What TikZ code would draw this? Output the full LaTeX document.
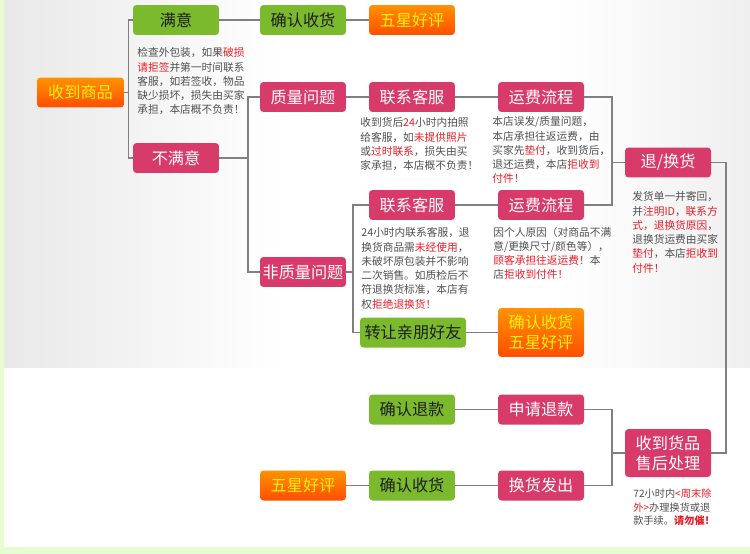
\documentclass[tikz,border=0pt]{standalone}
\usepackage{fontspec}
\setmainfont{Noto Sans CJK SC}
\usepackage{xcolor}
\usepackage{tikz}
\usetikzlibrary{positioning}
\definecolor{gGreen}{HTML}{7BB92D}
\definecolor{gInk}{HTML}{1E1E1E}
\definecolor{pPink}{HTML}{D83B6A}
\definecolor{oTop}{HTML}{FF9200}
\definecolor{oBot}{HTML}{FF4E00}
\definecolor{oText}{HTML}{FFF200}
\definecolor{nGray}{HTML}{505050}
\definecolor{hRed}{HTML}{EE1C25}
\definecolor{wGray}{HTML}{808080}
\definecolor{bgGray}{HTML}{E8E8E8}
\definecolor{bgGreen}{HTML}{E8FCD2}
\newcommand{\redtxt}[1]{\textcolor{hRed}{#1}}

\begin{document}
\begin{tikzpicture}[x=0.02cm, y=-0.02cm,
          box/.style={rounded corners=2pt, minimum width=1.72cm, minimum height=0.6cm,
            inner sep=0pt, align=center, font=\fontsize{9.2}{11.5}\selectfont},
          gbox/.style={box, fill=gGreen, text=gInk},
          pbox/.style={box, fill=pPink, text=white},
          obox/.style={box, top color=oTop, bottom color=oBot, text=oText},
          note/.style={anchor=north west, inner sep=0pt, align=left, text=nGray,
            font=\fontsize{6.1}{8.1}\selectfont},
          wire/.style={draw=wGray, line width=0.9pt}]
        \useasboundingbox (0,0) rectangle (750,554);
        \fill[white] (0,0) rectangle (750,554);
        \shade[left color=bgGray, right color=white] (0,0) rectangle (280,367);
        \shade[left color=white, right color=bgGray!70] (560,0) rectangle (750,367);
        \fill[bgGreen] (0,0) rectangle (4,554);
        \fill[bgGreen] (0,547) rectangle (750,554);
        \node[obox, minimum width=1.74cm] (shou) at (80.5,92.5) {收到商品};
        \node[gbox] (manyi) at (176,20) {满意};
        \node[gbox] (queren1) at (303,20) {确认收货};
        \node[obox] (wuxing1) at (412,20) {五星好评};
        \node[note] (n1) at (137,47.5) {检查外包装，如果\redtxt{破损}\\\redtxt{请拒签}并第一时间联系\\客服，如若签收，物品\\缺少损坏，损失由买家\\承担，本店概不负责！};
        \node[pbox] (bumanyi) at (176,158) {不满意};
        \node[pbox] (zhiliang) at (303,97) {质量问题};
        \node[pbox] (kefu1) at (412,97) {联系客服};
        \node[pbox] (yunfei1) at (541,97) {运费流程};
        \node[note] (n2) at (360,117.5) {收到货后\redtxt{24}小时内拍照\\给客服，如\redtxt{未提供照片}\\或\redtxt{过时联系}，损失由买\\家承担，本店概不负责！};
        \node[note] (n3) at (492,116.5) {本店误发/质量问题，\\本店承担往返运费，由\\买家先\redtxt{垫付}，收到货后，\\退还运费，本店\redtxt{拒收到}\\\redtxt{付件！}};
        \node[pbox] (tuihuan) at (668,162.5) {退/换货};
        \node[note] (n4) at (632,191.5) {发货单一并寄回，\\并\redtxt{注明ID，联系方}\\\redtxt{式，退换货原因}，\\退换货运费由买家\\\redtxt{垫付}，本店\redtxt{拒收到}\\\redtxt{付件！}};
        \node[pbox] (kefu2) at (412,205) {联系客服};
        \node[pbox] (yunfei2) at (541,205) {运费流程};
        \node[pbox] (feizhiliang) at (303,272) {非质量问题};
        \node[note] (n5) at (361,227.5) {24小时内联系客服，退\\换货商品需\redtxt{未经使用}，\\未破坏原包装并不影响\\二次销售。如质检后不\\符退换货标准，本店有\\权\redtxt{拒绝退换货！}};
        \node[note] (n6) at (493,226.5) {因个人原因（对商品不满\\意/更换尺寸/颜色等），\\\redtxt{顾客承担往返运费！}本\\店\redtxt{拒收到付件！}};
        \node[gbox, minimum width=2.12cm] (zhuanrang) at (413,332.5) {转让亲朋好友};
        \node[obox, minimum height=0.98cm] (queren2) at (541,332.5) {确认收货\\五星好评};
        \node[gbox] (tuikuan) at (412,409.5) {确认退款};
        \node[pbox] (shenqing) at (541,409.5) {申请退款};
        \node[pbox, minimum height=0.96cm] (shouhuo) at (668,453) {收到货品\\售后处理};
        \node[note, font=\fontsize{5.8}{7.7}\selectfont] (n7) at (633,488.5) {72小时内\redtxt{<周末除}\\\redtxt{外>}办理换货或退\\款手续。\textbf{\redtxt{请勿催！}}};
        \node[obox] (wuxing3) at (303,485.5) {五星好评};
        \node[gbox] (queren3) at (412,485.5) {确认收货};
        \node[pbox] (huanhuo) at (541,485.5) {换货发出};
        \coordinate (jA) at (128.5,92.5);
        \coordinate (jB) at (248,158);
        \coordinate (jC) at (612,162.5);
        \coordinate (jD) at (353,272);
        \coordinate (jE) at (726,453);
        \coordinate (jF) at (612,453);
        \draw[wire] (shou.east) -- (jA);
        \draw[wire] (manyi.west) -| (jA) |- (bumanyi.west);
        \draw[wire] (manyi) -- (queren1);
        \draw[wire] (queren1) -- (wuxing1);
        \draw[wire] (bumanyi.east) -- (jB);
        \draw[wire] (zhiliang.west) -| (jB) |- (feizhiliang.west);
        \draw[wire] (zhiliang) -- (kefu1);
        \draw[wire] (kefu1) -- (yunfei1);
        \draw[wire] (yunfei1.east) -| (jC) |- (yunfei2.east);
        \draw[wire] (jC) -- (tuihuan.west);
        \draw[wire] (feizhiliang.east) -- (jD);
        \draw[wire] (kefu2.west) -| (jD) |- (zhuanrang.west);
        \draw[wire] (kefu2) -- (yunfei2);
        \draw[wire] (zhuanrang) -- (queren2);
        \draw[wire] (tuihuan.east) -| (jE) -- (shouhuo.east);
        \draw[wire] (shouhuo.west) -- (jF);
        \draw[wire] (shenqing.east) -| (jF) |- (huanhuo.east);
        \draw[wire] (shenqing) -- (tuikuan);
        \draw[wire] (huanhuo) -- (queren3);
        \draw[wire] (queren3) -- (wuxing3);
      \end{tikzpicture}
\end{document}
